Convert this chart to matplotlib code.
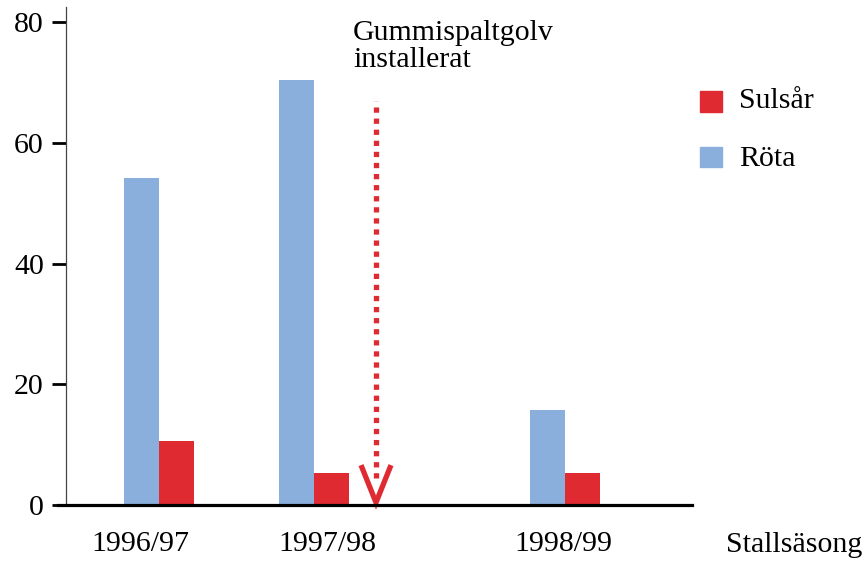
import matplotlib
matplotlib.use('Agg')
import matplotlib.pyplot as plt
from matplotlib.patches import Rectangle

# data
seasons = ['1996/97', '1997/98', '1998/99']
rota = [54.1, 70.4, 15.7]
sulsar = [10.6, 5.3, 5.3]

# layout (x axis in pixel-like units, groups are unevenly spaced)
group_x = [159, 313.5, 564.5]
label_x = [140, 327, 563]
bar_w = 35

blue = '#8BAFDD'
red = '#E02A32'

plt.rcParams['font.family'] = ['Liberation Serif', 'DejaVu Serif']
fs = 21.5

fig = plt.figure(figsize=(8.64, 5.63), dpi=100)
W, H = 864, 563
ax = fig.add_axes([58 / W, 58 / H, 634 / W, 498 / H])

ax.bar([x - bar_w / 2 for x in group_x], rota, width=bar_w, color=blue, edgecolor='none')
ax.bar([x + bar_w / 2 for x in group_x], sulsar, width=bar_w, color=red, edgecolor='none')

ax.set_xlim(58, 692)
ax.set_ylim(0, 82.5)

for s in ['top', 'right']:
    ax.spines[s].set_visible(False)
ax.spines['left'].set_position(('data', 66))
ax.spines['left'].set_color('#444444')
ax.spines['left'].set_linewidth(0.9)
ax.spines['bottom'].set_linewidth(2.3)
ax.spines['bottom'].set_color('black')
ax.spines['bottom'].set_zorder(5)

ax.set_yticks([0, 20, 40, 60, 80])
ax.tick_params(axis='y', length=10, width=2.0, pad=6, labelsize=fs)
ax.set_xticks(label_x)
ax.set_xticklabels(seasons)
ax.tick_params(axis='x', length=0, pad=19, labelsize=fs)

# arrow marking the new floor
arrow_x = 376
ax.plot([arrow_x, arrow_x], [4.5, 67], color=red, lw=3.8, linestyle=(0, (1, 1.1)),
        solid_capstyle='butt', dash_capstyle='butt')
ax.plot([arrow_x - 14, arrow_x, arrow_x + 14], [6.2, 0.4, 6.2], color=red, lw=3.8,
        solid_joinstyle='miter', clip_on=False)
ax.text(353, 80.3, 'Gummispaltgolv\ninstallerat', fontsize=fs, va='top', ha='left',
        linespacing=1.05)

# legend drawn by hand
fig.add_artist(Rectangle((700 / W, 1 - 112 / H), 22 / W, 21 / H, color=red,
                         transform=fig.transFigure))
fig.add_artist(Rectangle((700 / W, 1 - 167 / H), 22 / W, 20 / H, color=blue,
                         transform=fig.transFigure))
fig.text(739 / W, 1 - 101 / H, 'Sulsår', fontsize=fs, va='center', ha='left')
fig.text(739 / W, 1 - 159 / H, 'Röta', fontsize=fs, va='center', ha='left')

fig.text(726 / W, 1 - 545 / H, 'Stallsäsong', fontsize=fs, va='center', ha='left')

fig.savefig('out.png', dpi=100)
